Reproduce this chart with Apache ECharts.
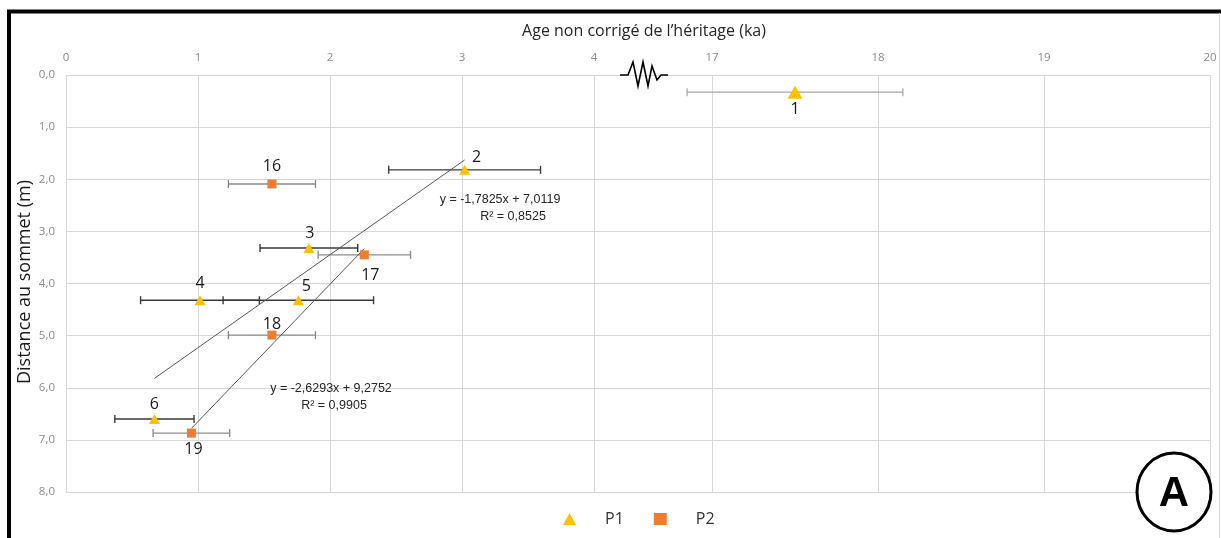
<!DOCTYPE html>
<html>
<head>
<meta charset="utf-8">
<script src="https://cdn.jsdelivr.net/npm/echarts@6/dist/echarts.min.js"></script>
<style>
html,body{margin:0;padding:0;background:#fff;}
#chart{width:1221px;height:538px;}
</style>
</head>
<body>
<div id="chart"></div>
<script>
// ---- Data ----
const p1Ids    = [1, 2, 3, 4, 5, 6];
const p1Ages   = [17.5, 3.02, 1.84, 1.015, 1.76, 0.67];   // ka
const p1Depths = [0.33, 1.82, 3.32, 4.32, 4.32, 6.60];    // m
const p1Errors = [0.65, 0.575, 0.37, 0.45, 0.57, 0.30];   // ka

const p2Ids    = [16, 17, 18, 19];
const p2Ages   = [1.56, 2.26, 1.56, 0.95];
const p2Depths = [2.09, 3.45, 4.99, 6.87];
const p2Errors = [0.33, 0.35, 0.33, 0.29];

// trend line end points (age, depth) as drawn
const trendP1 = [[0.67, 5.82], [3.02, 1.63]];
const trendP2 = [[0.95, 6.78], [2.26, 3.33]];

const eqP1 = ['y = -1,7825x + 7,0119', 'R² = 0,8525'];
const eqP2 = ['y = -2,6293x + 9,2752', 'R² = 0,9905'];

const leftTicks  = [0, 1, 2, 3, 4];
const rightTicks = [17, 18, 19, 20];
const yTicks     = [0, 1, 2, 3, 4, 5, 6, 7, 8];

// ---- label placements (style) ----
const labelOffsets = {
  1: [0, 17], 2: [12, -12], 3: [1, -15], 4: [0, -17], 5: [8, -14], 6: [0, -15],
  16: [0, -18], 17: [6, 21], 18: [0, -11], 19: [2, 16]
};

const BREAK_AT = 10;
const FONT = '"Open Sans", "Noto Sans", sans-serif';
const EQFONT = '12.5px "Liberation Sans Narrow", "Liberation Sans", sans-serif';

function buildPoints(ids, ages, depths, errs, right) {
  const out = [];
  for (let i = 0; i < ids.length; i++) {
    if ((ages[i] > BREAK_AT) === right) out.push({id: ids[i], value: [ages[i], depths[i], errs[i]]});
  }
  return out;
}

function errSeries(name, points, xi, color, width) {
  return {
    type: 'custom', name: name + '_err', xAxisIndex: xi, yAxisIndex: xi, silent: true,
    encode: {x: 0, y: 1},
    data: points.map(p => p.value),
    renderItem: function (params, api) {
      const x = api.value(0), y = api.value(1), e = api.value(2);
      const a = api.coord([x - e, y]), b = api.coord([x + e, y]);
      const h = 4;
      const st = {stroke: color, lineWidth: width};
      return {type: 'group', children: [
        {type: 'line', shape: {x1: a[0], y1: a[1], x2: b[0], y2: b[1]}, style: st},
        {type: 'line', shape: {x1: a[0], y1: a[1] - h, x2: a[0], y2: a[1] + h}, style: st},
        {type: 'line', shape: {x1: b[0], y1: b[1] - h, x2: b[0], y2: b[1] + h}, style: st}
      ]};
    },
    z: 2
  };
}

function scatterSeries(name, points, xi, symbol, size, color) {
  return {
    type: 'scatter', name: name, xAxisIndex: xi, yAxisIndex: xi,
    symbol: symbol, symbolSize: size,
    itemStyle: {color: color, opacity: 1},
    data: points.map(p => ({
      value: [p.value[0], p.value[1]],
      label: {
        show: true, formatter: String(p.id), position: 'inside',
        offset: labelOffsets[p.id] || [0, -15],
        color: '#1a1a1a', fontSize: 16, fontFamily: FONT
      }
    })),
    z: 5
  };
}

const p1Left  = buildPoints(p1Ids, p1Ages, p1Depths, p1Errors, false);
const p1Right = buildPoints(p1Ids, p1Ages, p1Depths, p1Errors, true);
const p2Left  = buildPoints(p2Ids, p2Ages, p2Depths, p2Errors, false);

const C_P1 = '#FFC000', C_P2 = '#ED7D31';
const GRID_TOP = 75, GRID_H = 417;

const yAxisBase = {type: 'value', min: 0, max: 8, interval: 1, inverse: true};
const tickLabel = {color: '#8c8c8c', fontSize: 11.5, fontFamily: FONT};

const chart = echarts.init(document.getElementById('chart'), null, {renderer: 'canvas'});
chart.setOption({
  animation: false,
  backgroundColor: '#ffffff',
  grid: [
    {left: 66, top: GRID_TOP, width: 1144, height: GRID_H},
    {left: 66, top: GRID_TOP, width: 528, height: GRID_H},
    {left: 629, top: GRID_TOP, width: 581, height: GRID_H}
  ],
  xAxis: [
    {gridIndex: 0, type: 'value', min: 0, max: 1, show: false},
    {gridIndex: 1, type: 'value', min: leftTicks[0], max: leftTicks[leftTicks.length - 1], interval: 1,
     position: 'top', axisLine: {show: false}, axisTick: {show: false},
     axisLabel: Object.assign({margin: 11}, tickLabel),
     splitLine: {show: true, lineStyle: {color: '#d9d9d9', width: 1}}},
    {gridIndex: 2, type: 'value', min: 16.5, max: 20,
     position: 'top', axisLine: {show: false},
     axisTick: {show: false, customValues: rightTicks},
     axisLabel: Object.assign({margin: 11, customValues: rightTicks}, tickLabel),
     splitLine: {show: true, lineStyle: {color: '#d9d9d9', width: 1}}}
  ],
  yAxis: [
    Object.assign({gridIndex: 0, axisLine: {show: false}, axisTick: {show: false},
      axisLabel: Object.assign({margin: 11, formatter: v => v.toFixed(1).replace('.', ',')}, tickLabel),
      splitLine: {show: true, lineStyle: {color: '#d9d9d9', width: 1}}}, yAxisBase),
    Object.assign({gridIndex: 1, show: false, splitLine: {show: false}}, yAxisBase),
    Object.assign({gridIndex: 2, show: false, splitLine: {show: false}}, yAxisBase)
  ],
  legend: {
    bottom: 6, left: 558, itemGap: 30, itemWidth: 13, itemHeight: 12,
    data: [{name: 'P1', icon: 'triangle'}, {name: 'P2', icon: 'rect'}],
    textStyle: {color: '#333', fontSize: 16, fontFamily: FONT, padding: [0, 0, 0, 24]},
    selectedMode: false
  },
  series: [
    errSeries('P1L', p1Left, 1, '#3a3a3a', 1.4),
    errSeries('P2L', p2Left, 1, '#8c8c8c', 1.4),
    errSeries('P1R', p1Right, 2, '#a6a6a6', 1.2),
    {type: 'line', name: 'trend1', xAxisIndex: 1, yAxisIndex: 1, data: trendP1, symbol: 'none',
     lineStyle: {color: '#595959', width: 1}, silent: true, z: 3},
    {type: 'line', name: 'trend2', xAxisIndex: 1, yAxisIndex: 1, data: trendP2, symbol: 'none',
     lineStyle: {color: '#595959', width: 1}, silent: true, z: 3},
    scatterSeries('P1', p1Left, 1, 'triangle', [11, 10], C_P1),
    scatterSeries('P2', p2Left, 1, 'rect', 9, C_P2),
    scatterSeries('P1', p1Right, 2, 'triangle', [15, 13], C_P1)
  ],
  graphic: [
    // frame
    {type: 'line', shape: {x1: 9, y1: 10, x2: 9, y2: 538}, style: {stroke: '#000', lineWidth: 4}, z: 100},
    {type: 'line', shape: {x1: 7, y1: 11.5, x2: 1221, y2: 11.5}, style: {stroke: '#000', lineWidth: 4}, z: 100},
    {type: 'line', shape: {x1: 1219.5, y1: 13, x2: 1219.5, y2: 538}, style: {stroke: '#d9d9d9', lineWidth: 1}, z: 100},
    // axis titles
    {type: 'text', x: 644, y: 31, style: {text: 'Age non corrigé de l’héritage (ka)', fill: '#262626',
      font: '16px ' + FONT, align: 'center', verticalAlign: 'middle'}},
    {type: 'text', x: 25, y: 282, rotation: Math.PI / 2, style: {text: 'Distance au sommet (m)', fill: '#1a1a1a',
      font: '18px ' + FONT, align: 'center', verticalAlign: 'middle'}},
    // axis break symbol
    {type: 'polyline', shape: {points: [[620, 75], [628, 75], [633, 62], [638, 86], [643, 62], [648, 86], [652, 66], [657, 80], [661, 75], [668, 75]]},
      style: {stroke: '#000', lineWidth: 1.6, fill: null}, z: 50},
    // trend equations
    {type: 'text', x: 500, y: 200, style: {text: eqP1[0], fill: '#262626', font: EQFONT, align: 'center', verticalAlign: 'middle'}, z: 20},
    {type: 'text', x: 513, y: 217, style: {text: eqP1[1], fill: '#262626', font: EQFONT, align: 'center', verticalAlign: 'middle'}, z: 20},
    {type: 'text', x: 331, y: 389, style: {text: eqP2[0], fill: '#262626', font: EQFONT, align: 'center', verticalAlign: 'middle'}, z: 20},
    {type: 'text', x: 334, y: 406, style: {text: eqP2[1], fill: '#262626', font: EQFONT, align: 'center', verticalAlign: 'middle'}, z: 20},
    // panel letter
    {type: 'ellipse', shape: {cx: 1174, cy: 492, rx: 37, ry: 39}, style: {fill: '#fff', stroke: '#000', lineWidth: 3}, z: 60},
    {type: 'text', x: 1174, y: 494, style: {text: 'A', fill: '#000', font: 'bold 42px "Liberation Sans", Arial, sans-serif',
      align: 'center', verticalAlign: 'middle'}, z: 61}
  ]
});
</script>
</body>
</html>
